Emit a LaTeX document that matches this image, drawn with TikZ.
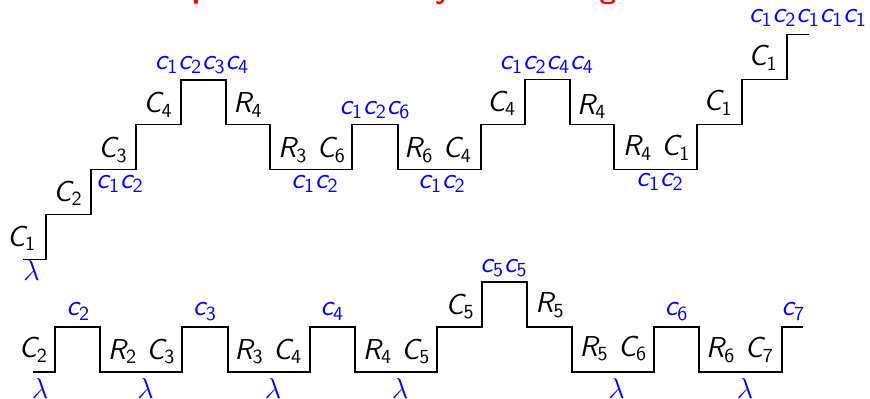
\documentclass[tikz,border=0pt]{standalone}
\usepackage{xcolor}
\DeclareMathAlphabet{\mathsfit}{OT1}{cmss}{m}{sl}
\newcommand{\ltr}[2]{\mathsfit{#1}_{\mathsf{#2}}}
\begin{document}
\begin{tikzpicture}[x=0.5pt,y=-0.5pt,
  lab/.style={inner sep=0pt,font=\fontsize{14.4}{16}\selectfont},
  ctx/.style={lab,text=blue},
  stair/.style={line width=0.95pt,black},
  ttl/.style={inner sep=0pt,anchor=base,text=red,font=\sffamily\bfseries\fontsize{15.1}{17}\selectfont}]
\useasboundingbox (0,0) rectangle (870,398);
\node[ttl] (title) at (438,-2) {Interprocedural Validity and Calling Contexts};
% upper staircase
\draw[stair] (23,259.5) -- (45.7,259.5) -- (45.7,214.5) -- (90.7,214.5) -- (90.7,169.5) -- (135.7,169.5) -- (135.7,124.5) -- (181,124.5) -- (181,79.8) -- (226,79.8) -- (226,124.5) -- (270,124.5) -- (270,169.5) -- (352.3,169.5) -- (352.3,124.5) -- (397.7,124.5) -- (397.7,169.5) -- (480.7,169.5) -- (480.7,124.5) -- (525,124.5) -- (525,79.5) -- (570,79.5) -- (570,124.5) -- (614.3,124.5) -- (614.3,169.5) -- (696.7,169.5) -- (696.7,124.5) -- (742.3,124.5) -- (742.3,79.5) -- (787.3,79.5) -- (787.3,34.5) -- (809,34.5);
\node[lab] (a1) at (21.7,238.3) {$\ltr{C}{1}$};
\node[ctx] (a2) at (31.7,270) {$\lambda$};
\node[lab] (a3) at (68,193.3) {$\ltr{C}{2}$};
\node[ctx] (a4) at (120,184) {$\ltr{c}{1}\ltr{c}{2}$};
\node[lab] (a5) at (113,150) {$\ltr{C}{3}$};
\node[lab] (a6) at (158,105) {$\ltr{C}{4}$};
\node[ctx] (a7) at (202,65) {$\ltr{c}{1}\ltr{c}{2}\ltr{c}{3}\ltr{c}{4}$};
\node[lab] (a8) at (248,105) {$\ltr{R}{4}$};
\node[lab] (a9) at (312,150) {$\ltr{R}{3}\ \ltr{C}{6}$};
\node[ctx] (a10) at (315,184) {$\ltr{c}{1}\ltr{c}{2}$};
\node[ctx] (a11) at (375,110) {$\ltr{c}{1}\ltr{c}{2}\ltr{c}{6}$};
\node[lab] (a12) at (438,150) {$\ltr{R}{6}\ \ltr{C}{4}$};
\node[ctx] (a13) at (442,184) {$\ltr{c}{1}\ltr{c}{2}$};
\node[lab] (a14) at (501.7,103.3) {$\ltr{C}{4}$};
\node[ctx] (a15) at (546.7,65) {$\ltr{c}{1}\ltr{c}{2}\ltr{c}{4}\ltr{c}{4}$};
\node[lab] (a16) at (591.7,106.7) {$\ltr{R}{4}$};
\node[lab] (a17) at (656.7,148) {$\ltr{R}{4}\ \ltr{C}{1}$};
\node[ctx] (a18) at (660,182) {$\ltr{c}{1}\ltr{c}{2}$};
\node[lab] (a19) at (718,103) {$\ltr{C}{1}$};
\node[lab] (a20) at (763,58) {$\ltr{C}{1}$};
\node[ctx] (a21) at (808,18.3) {$\ltr{c}{1}\ltr{c}{2}\ltr{c}{1}\ltr{c}{1}\ltr{c}{1}$};
% lower staircase
\draw[stair] (33.3,371.7) -- (55,371.7) -- (55,326.7) -- (100,326.7) -- (100,371.7) -- (181.7,371.7) -- (181.7,326.7) -- (227.7,326.7) -- (227.7,371.7) -- (310,371.7) -- (310,326.7) -- (355,326.7) -- (355,371.7) -- (437.3,371.7) -- (437.3,326.7) -- (481.7,326.7) -- (481.7,281.7) -- (526.7,281.7) -- (526.7,326.7) -- (572.3,326.7) -- (572.3,371.7) -- (654,371.7) -- (654,326.7) -- (699.3,326.7) -- (699.3,371.7) -- (781.7,371.7) -- (781.7,326.7) -- (803.3,326.7);
\node[lab] (b1) at (33.3,350) {$\ltr{C}{2}$};
\node[ctx] (b2) at (40,388.5) {$\lambda$};
\node[ctx] (b3) at (78.3,311.7) {$\ltr{c}{2}$};
\node[lab] (b4) at (141.7,351.7) {$\ltr{R}{2}\ \ltr{C}{3}$};
\node[ctx] (b5) at (145.7,388.5) {$\lambda$};
\node[ctx] (b6) at (205,311.7) {$\ltr{c}{3}$};
\node[lab] (b7) at (268.3,351.7) {$\ltr{R}{3}\ \ltr{C}{4}$};
\node[ctx] (b8) at (273,388.5) {$\lambda$};
\node[ctx] (b9) at (332.3,311.7) {$\ltr{c}{4}$};
\node[lab] (b10) at (396.7,351.7) {$\ltr{R}{4}\ \ltr{C}{5}$};
\node[ctx] (b11) at (400,388.5) {$\lambda$};
\node[lab] (b12) at (460,306.7) {$\ltr{C}{5}$};
\node[ctx] (b13) at (504,268.3) {$\ltr{c}{5}\ltr{c}{5}$};
\node[lab] (b14) at (550,305) {$\ltr{R}{5}$};
\node[lab] (b15) at (613.3,348.3) {$\ltr{R}{5}\ \ltr{C}{6}$};
\node[ctx] (b16) at (616.7,388.5) {$\lambda$};
\node[ctx] (b17) at (676.7,311.7) {$\ltr{c}{6}$};
\node[lab] (b18) at (740,350) {$\ltr{R}{6}\ \ltr{C}{7}$};
\node[ctx] (b19) at (745,388.5) {$\lambda$};
\node[ctx] (b20) at (793.3,311.7) {$\ltr{c}{7}$};
\end{tikzpicture}
\end{document}
